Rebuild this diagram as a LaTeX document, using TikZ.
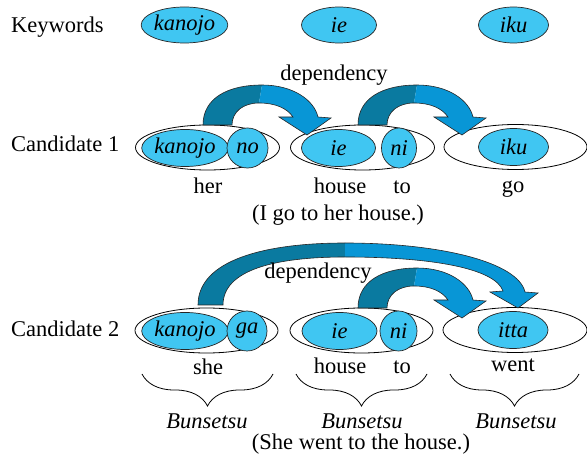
\documentclass[tikz,border=0pt]{standalone}
\usepackage{fontspec}
\setmainfont{Liberation Serif}
\usetikzlibrary{shapes.geometric,decorations.pathreplacing}
\definecolor{kwfill}{RGB}{64,198,242}
\definecolor{arrdark}{RGB}{10,122,160}
\definecolor{arrlight}{RGB}{8,150,214}
\newcommand{\bigfont}{\fontsize{22.5}{26}\selectfont}
\tikzset{
  txt/.style={font=\bigfont, inner sep=0pt, anchor=base},
  kw/.style={ellipse, draw=black!85, line width=0.7pt, fill=kwfill, inner sep=0pt,
     minimum width=75pt, minimum height=36pt, font=\bigfont\itshape},
  bun/.style={ellipse, draw=black, line width=0.8pt, fill=white, inner sep=0pt,
     minimum width=144pt, minimum height=45pt},
  brc/.style={decorate, decoration={brace, amplitude=32pt}, line width=0.8pt},
  arrline/.style={draw=black!85, line width=0.6pt}
}
\newcommand{\arrowshapeA}{%
  \fill[arrdark] (203,125) .. controls (203,98) and (228,85) .. (262,85) -- (259,103)
     .. controls (243,103) and (232,112) .. (232,125) -- cycle;
  \fill[arrlight] (262,85) .. controls (293,85) and (314,100) .. (318,117) -- (331,118)
     -- (307,135) -- (279,117) -- (293,117) .. controls (287,108) and (275,103) .. (259,103) -- cycle;
  \path[arrline] (203,125) .. controls (203,98) and (228,85) .. (262,85)
     .. controls (293,85) and (314,100) .. (318,117) -- (331,118)
     -- (307,135) -- (279,117) -- (293,117) .. controls (287,108) and (275,103) .. (259,103)
     .. controls (243,103) and (232,112) .. (232,125) -- cycle;
}
\begin{document}
\begin{tikzpicture}[x=1pt,y=-1pt]
\useasboundingbox (0,0) rectangle (587,454);

% Keywords row
\node[txt, anchor=base west] (lkw) at (11,33) {Keywords};
\node[kw] (kw1) at (184.5,25) {kanojo};
\node[kw] (kw2) at (339,25) {ie};
\node[kw, minimum width=70pt] (kw3) at (513.5,25) {iku};

% Candidate 1
\node[txt, anchor=base west] (lc1) at (11,152) {Candidate 1};
\node[bun] (c1b1) at (207.5,147.5) {};
\node[kw, minimum width=76pt, minimum height=37pt] (c1k) at (185,148) {kanojo};
\node[kw, minimum width=41pt, minimum height=40pt] (c1no) at (247.5,148) {no};
\node[bun] (c1b2) at (362.5,147.5) {};
\node[kw, minimum width=74pt, minimum height=37pt] (c1ie) at (338.5,148) {ie};
\node[kw, minimum width=35pt, minimum height=40pt] (c1ni) at (399,148) {ni};
\node[bun, minimum width=143pt] (c1b3) at (515.5,147) {};
\node[kw, minimum width=70pt, minimum height=37pt] (c1iku) at (513.5,147) {iku};

\arrowshapeA
\begin{scope}[shift={(155,0)}]\arrowshapeA\end{scope}
\node[txt] (dep1) at (334,81) {dependency};

\node[txt] (w1) at (208,194) {her};
\node[txt] (w2) at (340,194) {house};
\node[txt] (w3) at (402,194) {to};
\node[txt] (w4) at (513,193) {go};
\node[txt] (tr1) at (338,221) {(I go to her house.)};

% Candidate 2
\node[txt, anchor=base west] (lc2) at (11,337) {Candidate 2};
\node[bun, minimum width=143pt] (c2b1) at (206.5,330.5) {};
\node[kw, minimum width=76pt, minimum height=37pt] (c2k) at (185,331) {kanojo};
\node[kw, minimum width=40pt, minimum height=40pt] (c2ga) at (247,331) {ga};
\node[bun, minimum width=143pt] (c2b2) at (361.5,330.5) {};
\node[kw, minimum width=75pt, minimum height=37pt] (c2ie) at (339.5,331) {ie};
\node[kw, minimum width=37pt, minimum height=40pt] (c2ni) at (398.5,331) {ni};
\node[bun, minimum width=144pt] (c2b3) at (515,330) {};
\node[kw, minimum width=70pt, minimum height=37pt] (c2itta) at (513,330) {itta};

% long arrow
\fill[arrdark] (198,305) .. controls (198,260) and (265,243) .. (345,243) -- (345,257)
   .. controls (275,257) and (223,270) .. (223,305) -- cycle;
\fill[arrlight] (345,243) .. controls (440,243) and (518,262) .. (525,292) -- (538,293)
   -- (518,308) -- (490,292) -- (503,291) .. controls (495,268) and (430,257) .. (345,257) -- cycle;
\path[arrline] (198,305) .. controls (198,260) and (265,243) .. (345,243)
   .. controls (440,243) and (518,262) .. (525,292) -- (538,293)
   -- (518,308) -- (490,292) -- (503,291) .. controls (495,268) and (430,257) .. (345,257)
   .. controls (275,257) and (223,270) .. (223,305) -- cycle;
\begin{scope}[shift={(155,183)}]\arrowshapeA\end{scope}
\node[txt] (dep2) at (318,279) {dependency};

\node[txt] (v1) at (208,375) {she};
\node[txt] (v2) at (340,374) {house};
\node[txt] (v3) at (402,374) {to};
\node[txt] (v4) at (513,372) {went};

\draw[brc] (273,374) -- (142,374);
\draw[brc] (427,374) -- (296,374);
\draw[brc] (579,374) -- (450,374);
\node[txt, font=\bigfont\itshape] (bs1) at (207,429) {Bunsetsu};
\node[txt, font=\bigfont\itshape] (bs2) at (362,429) {Bunsetsu};
\node[txt, font=\bigfont\itshape] (bs3) at (516,429) {Bunsetsu};
\node[txt] (tr2) at (361,450) {(She went to the house.)};
\end{tikzpicture}
\end{document}
